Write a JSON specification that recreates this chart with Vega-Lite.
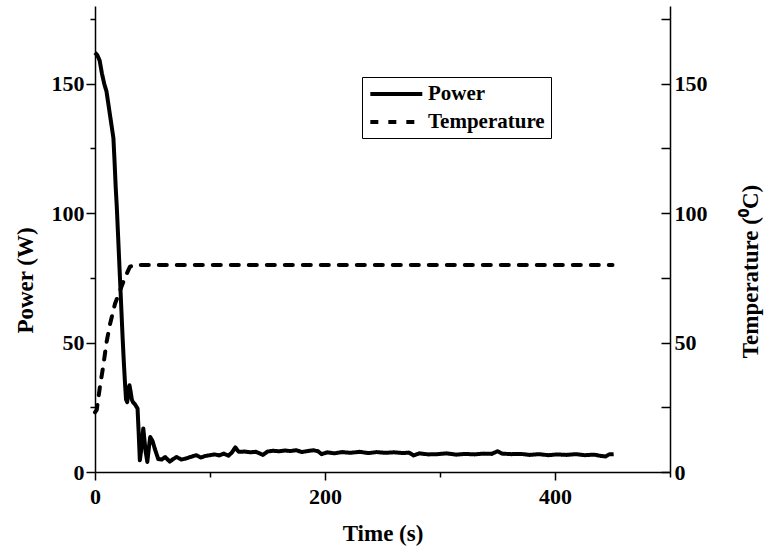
{
  "$schema": "https://vega.github.io/schema/vega-lite/v6.json",
  "width": 575,
  "height": 466,
  "autosize": "none",
  "padding": {"left": 95, "top": 6, "right": 95, "bottom": 76},
  "background": "white",
  "config": {
    "view": {"stroke": null},
    "font": "Liberation Serif",
    "axis": {
      "domainColor": "black",
      "domainWidth": 1.5,
      "tickColor": "black",
      "tickWidth": 1.5,
      "grid": false,
      "labelFont": "Liberation Serif",
      "labelFontWeight": "bold",
      "labelFontSize": 22,
      "labelColor": "black",
      "titleFont": "Liberation Serif",
      "titleFontWeight": "bold",
      "titleFontSize": 23,
      "titleColor": "black"
    },
    "legend": {
      "labelFont": "Liberation Serif",
      "labelFontWeight": "bold",
      "labelFontSize": 21,
      "labelColor": "black"
    }
  },
  "datasets": {
    "power": [
      {"t": 0, "P": 162, "series": "Power"},
      {"t": 2, "P": 161, "series": "Power"},
      {"t": 4, "P": 159, "series": "Power"},
      {"t": 6, "P": 154, "series": "Power"},
      {"t": 8, "P": 150, "series": "Power"},
      {"t": 10, "P": 147, "series": "Power"},
      {"t": 12, "P": 141, "series": "Power"},
      {"t": 14, "P": 135, "series": "Power"},
      {"t": 16, "P": 129, "series": "Power"},
      {"t": 17, "P": 120, "series": "Power"},
      {"t": 18, "P": 110, "series": "Power"},
      {"t": 19, "P": 102, "series": "Power"},
      {"t": 20, "P": 92, "series": "Power"},
      {"t": 21, "P": 82, "series": "Power"},
      {"t": 22, "P": 72, "series": "Power"},
      {"t": 23, "P": 62, "series": "Power"},
      {"t": 24, "P": 52, "series": "Power"},
      {"t": 25, "P": 43, "series": "Power"},
      {"t": 26, "P": 35, "series": "Power"},
      {"t": 27, "P": 28, "series": "Power"},
      {"t": 28, "P": 27, "series": "Power"},
      {"t": 29, "P": 31, "series": "Power"},
      {"t": 30, "P": 33.5, "series": "Power"},
      {"t": 31, "P": 31, "series": "Power"},
      {"t": 32, "P": 28, "series": "Power"},
      {"t": 33, "P": 27, "series": "Power"},
      {"t": 35, "P": 26, "series": "Power"},
      {"t": 37, "P": 24.5, "series": "Power"},
      {"t": 38, "P": 15, "series": "Power"},
      {"t": 39, "P": 4.5, "series": "Power"},
      {"t": 40, "P": 8, "series": "Power"},
      {"t": 42, "P": 16.8, "series": "Power"},
      {"t": 44, "P": 8, "series": "Power"},
      {"t": 45.5, "P": 3.9, "series": "Power"},
      {"t": 47, "P": 10, "series": "Power"},
      {"t": 48, "P": 13.5, "series": "Power"},
      {"t": 50, "P": 12, "series": "Power"},
      {"t": 52, "P": 9, "series": "Power"},
      {"t": 55, "P": 5, "series": "Power"},
      {"t": 58, "P": 4.8, "series": "Power"},
      {"t": 61, "P": 5.8, "series": "Power"},
      {"t": 65, "P": 4, "series": "Power"},
      {"t": 68, "P": 5, "series": "Power"},
      {"t": 71, "P": 5.8, "series": "Power"},
      {"t": 75, "P": 4.8, "series": "Power"},
      {"t": 79, "P": 5.2, "series": "Power"},
      {"t": 83, "P": 5.8, "series": "Power"},
      {"t": 88, "P": 6.5, "series": "Power"},
      {"t": 92, "P": 5.6, "series": "Power"},
      {"t": 96, "P": 6.2, "series": "Power"},
      {"t": 100, "P": 6.5, "series": "Power"},
      {"t": 104, "P": 6.8, "series": "Power"},
      {"t": 108, "P": 6.4, "series": "Power"},
      {"t": 112, "P": 7.1, "series": "Power"},
      {"t": 116, "P": 6.3, "series": "Power"},
      {"t": 119, "P": 7.5, "series": "Power"},
      {"t": 122, "P": 9.5, "series": "Power"},
      {"t": 125, "P": 7.8, "series": "Power"},
      {"t": 130, "P": 7.9, "series": "Power"},
      {"t": 135, "P": 7.6, "series": "Power"},
      {"t": 140, "P": 7.8, "series": "Power"},
      {"t": 146, "P": 6.6, "series": "Power"},
      {"t": 150, "P": 7.9, "series": "Power"},
      {"t": 155, "P": 8.2, "series": "Power"},
      {"t": 160, "P": 8.0, "series": "Power"},
      {"t": 165, "P": 8.3, "series": "Power"},
      {"t": 170, "P": 8.1, "series": "Power"},
      {"t": 175, "P": 8.4, "series": "Power"},
      {"t": 180, "P": 7.7, "series": "Power"},
      {"t": 185, "P": 8.1, "series": "Power"},
      {"t": 190, "P": 8.4, "series": "Power"},
      {"t": 194, "P": 8.0, "series": "Power"},
      {"t": 197, "P": 6.9, "series": "Power"},
      {"t": 202, "P": 7.6, "series": "Power"},
      {"t": 208, "P": 7.2, "series": "Power"},
      {"t": 215, "P": 7.7, "series": "Power"},
      {"t": 222, "P": 7.4, "series": "Power"},
      {"t": 230, "P": 7.8, "series": "Power"},
      {"t": 238, "P": 7.3, "series": "Power"},
      {"t": 245, "P": 7.7, "series": "Power"},
      {"t": 252, "P": 7.4, "series": "Power"},
      {"t": 260, "P": 7.6, "series": "Power"},
      {"t": 268, "P": 7.3, "series": "Power"},
      {"t": 273, "P": 7.5, "series": "Power"},
      {"t": 277, "P": 6.4, "series": "Power"},
      {"t": 282, "P": 7.2, "series": "Power"},
      {"t": 290, "P": 6.8, "series": "Power"},
      {"t": 298, "P": 6.9, "series": "Power"},
      {"t": 306, "P": 7.2, "series": "Power"},
      {"t": 314, "P": 6.7, "series": "Power"},
      {"t": 322, "P": 7.0, "series": "Power"},
      {"t": 330, "P": 6.8, "series": "Power"},
      {"t": 338, "P": 7.1, "series": "Power"},
      {"t": 345, "P": 7.0, "series": "Power"},
      {"t": 350, "P": 8.0, "series": "Power"},
      {"t": 354, "P": 7.1, "series": "Power"},
      {"t": 362, "P": 6.9, "series": "Power"},
      {"t": 370, "P": 7.0, "series": "Power"},
      {"t": 378, "P": 6.6, "series": "Power"},
      {"t": 386, "P": 6.9, "series": "Power"},
      {"t": 394, "P": 6.5, "series": "Power"},
      {"t": 402, "P": 6.8, "series": "Power"},
      {"t": 410, "P": 6.6, "series": "Power"},
      {"t": 418, "P": 6.9, "series": "Power"},
      {"t": 426, "P": 6.5, "series": "Power"},
      {"t": 434, "P": 6.7, "series": "Power"},
      {"t": 440, "P": 6.2, "series": "Power"},
      {"t": 444, "P": 6.0, "series": "Power"},
      {"t": 447, "P": 6.8, "series": "Power"},
      {"t": 451, "P": 6.9, "series": "Power"}
    ],
    "temp": [
      {"t": 0, "T": 23, "series": "Temperature"},
      {"t": 1.5, "T": 24, "series": "Temperature"},
      {"t": 4.3, "T": 33, "series": "Temperature"},
      {"t": 7.2, "T": 41, "series": "Temperature"},
      {"t": 10, "T": 50, "series": "Temperature"},
      {"t": 13, "T": 57, "series": "Temperature"},
      {"t": 17.4, "T": 65, "series": "Temperature"},
      {"t": 21.7, "T": 70, "series": "Temperature"},
      {"t": 26, "T": 75, "series": "Temperature"},
      {"t": 30.4, "T": 79.3, "series": "Temperature"},
      {"t": 35, "T": 80, "series": "Temperature"},
      {"t": 60, "T": 80, "series": "Temperature"},
      {"t": 90, "T": 80, "series": "Temperature"},
      {"t": 120, "T": 80, "series": "Temperature"},
      {"t": 150, "T": 80, "series": "Temperature"},
      {"t": 180, "T": 80, "series": "Temperature"},
      {"t": 210, "T": 80, "series": "Temperature"},
      {"t": 240, "T": 80, "series": "Temperature"},
      {"t": 270, "T": 80, "series": "Temperature"},
      {"t": 300, "T": 80, "series": "Temperature"},
      {"t": 330, "T": 80, "series": "Temperature"},
      {"t": 360, "T": 80, "series": "Temperature"},
      {"t": 390, "T": 80, "series": "Temperature"},
      {"t": 420, "T": 80, "series": "Temperature"},
      {"t": 450, "T": 80, "series": "Temperature"}
    ]
  },
  "layer": [
    {
      "data": {"name": "power"},
      "mark": {"type": "line", "color": "black", "strokeWidth": 4, "strokeJoin": "round", "strokeCap": "butt"},
      "encoding": {
        "x": {
          "field": "t", "type": "quantitative",
          "scale": {"domain": [0, 500], "nice": false, "zero": false},
          "axis": {
            "title": "Time (s)",
            "values": [0, 100, 200, 300, 400, 500],
            "labelExpr": "datum.value % 200 === 0 && datum.value < 500 ? datum.label : ''",
            "tickSize": {"condition": {"test": "datum.value % 200 === 0 && datum.value < 500", "value": 8}, "value": 5},
            "labelPadding": 6,
            "titlePadding": 15,
            "labelFlush": false
          }
        },
        "y": {
          "field": "P", "type": "quantitative",
          "scale": {"domain": [0, 180], "nice": false},
          "axis": {
            "orient": "left",
            "title": "Power (W)",
            "titleY": 274,
            "values": [0, 25, 50, 75, 100, 125, 150, 175],
            "labelExpr": "datum.value % 50 === 0 ? datum.label : ''",
            "tickSize": {"condition": {"test": "datum.value % 50 === 0", "value": 9}, "value": 5},
            "labelPadding": 2,
            "titlePadding": 14
          }
        },
        "strokeDash": {
          "field": "series", "type": "nominal",
          "scale": {"domain": ["Power", "Temperature"], "range": [[1, 0], [8, 10]]},
          "legend": {
            "title": null,
            "orient": "none",
            "legendX": 267,
            "legendY": 71,
            "symbolType": "M-1,0H5",
            "symbolSize": 300,
            "symbolStrokeWidth": 4,
            "symbolStrokeColor": "black",
            "strokeColor": "black",
            "padding": 6,
            "rowPadding": 7,
            "labelOffset": 38
          }
        }
      }
    },
    {
      "data": {"name": "temp"},
      "mark": {"type": "line", "color": "black", "strokeWidth": 4, "strokeJoin": "round", "strokeCap": "round"},
      "encoding": {
        "x": {"field": "t", "type": "quantitative", "scale": {"domain": [0, 500], "nice": false, "zero": false}},
        "y": {
          "field": "T", "type": "quantitative",
          "scale": {"domain": [0, 180], "nice": false},
          "axis": {
            "orient": "right",
            "title": "Temperature (⁰C)",
            "titleAngle": 270,
            "titleBaseline": "top",
            "titleY": 265,
            "values": [0, 25, 50, 75, 100, 125, 150, 175],
            "labelExpr": "datum.value % 50 === 0 ? datum.label : ''",
            "tickSize": -9,
            "labelPadding": 13,
            "titlePadding": 32
          }
        },
        "strokeDash": {"field": "series", "type": "nominal"}
      }
    }
  ],
  "resolve": {"scale": {"y": "independent"}}
}
